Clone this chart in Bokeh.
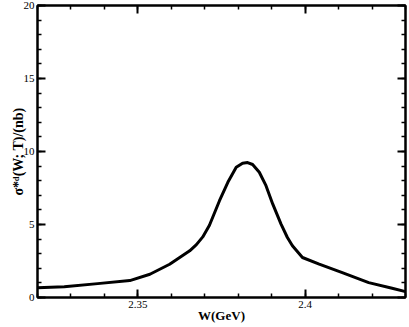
from bokeh.plotting import figure
from bokeh.models import FixedTicker, LinearAxis, Range1d, CustomLabelingPolicy
from bokeh.embed import file_html
from bokeh.resources import INLINE

# data
w_gev = [2.3200, 2.3280, 2.3380, 2.3476, 2.3536, 2.3595, 2.3655, 2.3675, 2.3694, 2.3714,
         2.3744, 2.3769, 2.3794, 2.3813, 2.3828, 2.3843, 2.3863, 2.3883, 2.3903,
         2.3928, 2.3947, 2.3962, 2.3992, 2.4042, 2.4111, 2.4190, 2.4260, 2.4300]
sigma_nb = [0.66, 0.74, 0.95, 1.16, 1.59, 2.28, 3.20, 3.62, 4.15, 4.95,
            6.63, 7.89, 8.92, 9.20, 9.24, 9.11, 8.58, 7.66, 6.41,
            5.03, 4.11, 3.54, 2.74, 2.28, 1.70, 1.02, 0.63, 0.40]

x_major = [2.35, 2.4]
x_major_labels = ["2.35", "2.4"]
x_minor = [2.32, 2.33, 2.34, 2.35, 2.36, 2.37, 2.38, 2.39, 2.40, 2.41, 2.42, 2.43]
y_major = [0, 5, 10, 15, 20]
y_major_labels = ["0", "5", "10", "15", "20"]
y_minor = list(range(0, 21))
x_title = "W(GeV)"
y_title = "σ*\u1d48(W; T)/(nb)"

FONT = "Liberation Serif"

p = figure(width=409, height=327, output_backend="svg", toolbar_location=None,
           x_range=Range1d(2.32, 2.43), y_range=Range1d(0, 20),
           x_axis_location=None, y_axis_location=None,
           min_border_left=37, min_border_right=2, min_border_top=5, min_border_bottom=30)
p.xgrid.visible = False
p.ygrid.visible = False
p.outline_line_color = "black"
p.outline_line_width = 2
p.background_fill_color = "white"
p.border_fill_color = "white"

def style(ax, labels):
    ax.axis_line_width = 2
    ax.axis_line_color = "black"
    ax.major_tick_in = 8
    ax.major_tick_out = 0
    ax.minor_tick_in = 4
    ax.minor_tick_out = 0
    ax.major_tick_line_width = 2
    ax.minor_tick_line_width = 1.5
    ax.major_label_text_font = FONT
    ax.major_label_text_color = "black"
    ax.axis_label_text_font = FONT
    ax.axis_label_text_font_style = "bold"
    ax.axis_label_text_color = "black"
    if labels:
        ax.major_label_text_font_size = "11px"
        ax.major_label_standoff = 3
    else:
        ax.major_label_text_font_size = "1px"
        ax.major_label_standoff = 0
        ax.major_label_policy = CustomLabelingPolicy(code="return []")

for loc, is_x, labels in [("below", True, True), ("above", True, False),
                          ("left", False, True), ("right", False, False)]:
    ax = LinearAxis()
    if is_x:
        ax.ticker = FixedTicker(ticks=x_major, minor_ticks=x_minor)
        ax.major_label_overrides = {t: l for t, l in zip(x_major, x_major_labels)}
    else:
        ax.ticker = FixedTicker(ticks=y_major, minor_ticks=y_minor)
        ax.major_label_overrides = {t: l for t, l in zip(y_major, y_major_labels)}
    style(ax, labels)
    if loc == "below":
        ax.axis_label = x_title
        ax.axis_label_text_font_size = "13px"
        ax.axis_label_standoff = -3
    if loc == "left":
        ax.axis_label = y_title
        ax.axis_label_text_font_size = "14px"
        ax.axis_label_standoff = -5
    p.add_layout(ax, loc)

p.line(w_gev, sigma_nb, line_color="black", line_width=3, line_join="round", line_cap="round")

open("out.html", "w").write(file_html(p, INLINE))
